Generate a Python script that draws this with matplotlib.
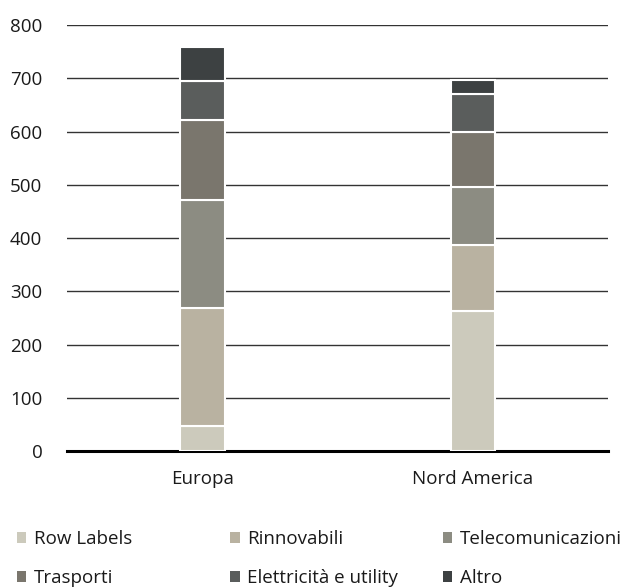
import numpy as np
import matplotlib.pyplot as plt
from matplotlib.patches import Patch

plt.rcParams['font.family'] = ['Open Sans', 'DejaVu Sans']

regions = ['Europa', 'Nord America']
series = ['Row Labels', 'Rinnovabili', 'Telecomunicazioni',
          'Trasporti', 'Elettricità e utility', 'Altro']
values = {
    'Row Labels': [47, 263],
    'Rinnovabili': [222, 124],
    'Telecomunicazioni': [203, 109],
    'Trasporti': [150, 103],
    'Elettricità e utility': [73, 71],
    'Altro': [64, 27],
}
colors = ['#CCCABC', '#B9B2A1', '#8C8C82', '#7A766D', '#5A5D5C', '#3D4142']

fig = plt.figure(figsize=(6.29, 5.88), dpi=100)
ax = fig.add_axes([0.107, 0.233, 0.860, 0.724])

x = np.arange(len(regions))
bottom = np.zeros(len(regions))
handles = []
for name, c in zip(series, colors):
    v = np.array(values[name], dtype=float)
    ax.bar(x, v, 0.165, bottom=bottom, color=c, edgecolor='white', linewidth=1.5, zorder=3)
    bottom += v
    handles.append(Patch(facecolor=c, edgecolor='none'))

ax.set_xlim(-0.5, 1.5)
ax.set_ylim(0, 800)
ax.set_yticks(range(0, 801, 100))
ax.yaxis.grid(True, color='#333333', linewidth=1)
ax.set_axisbelow(True)
ax.set_xticks(x)
ax.set_xticklabels(regions)
for s in ['left', 'right', 'top']:
    ax.spines[s].set_visible(False)
ax.spines['bottom'].set_linewidth(2.2)
ax.spines['bottom'].set_color('black')
ax.tick_params(axis='both', length=0, labelsize=13.5, colors='#1a1a1a')
ax.tick_params(axis='y', pad=18)
ax.tick_params(axis='x', pad=14)

# legend: three columns, two rows, placed one column at a time
col_x = [0.027, 0.366, 0.704]
for k in range(3):
    idx = [k, k + 3]
    fig.legend([handles[i] for i in idx], [series[i] for i in idx],
               loc='center left', bbox_to_anchor=(col_x[k], 0.05), frameon=False,
               fontsize=13.5, handlelength=0.5, handleheight=0.5, handletextpad=0.4,
               labelspacing=1.15, borderaxespad=0, borderpad=0,
               labelcolor='#1a1a1a')

fig.savefig('out.png', dpi=100)
